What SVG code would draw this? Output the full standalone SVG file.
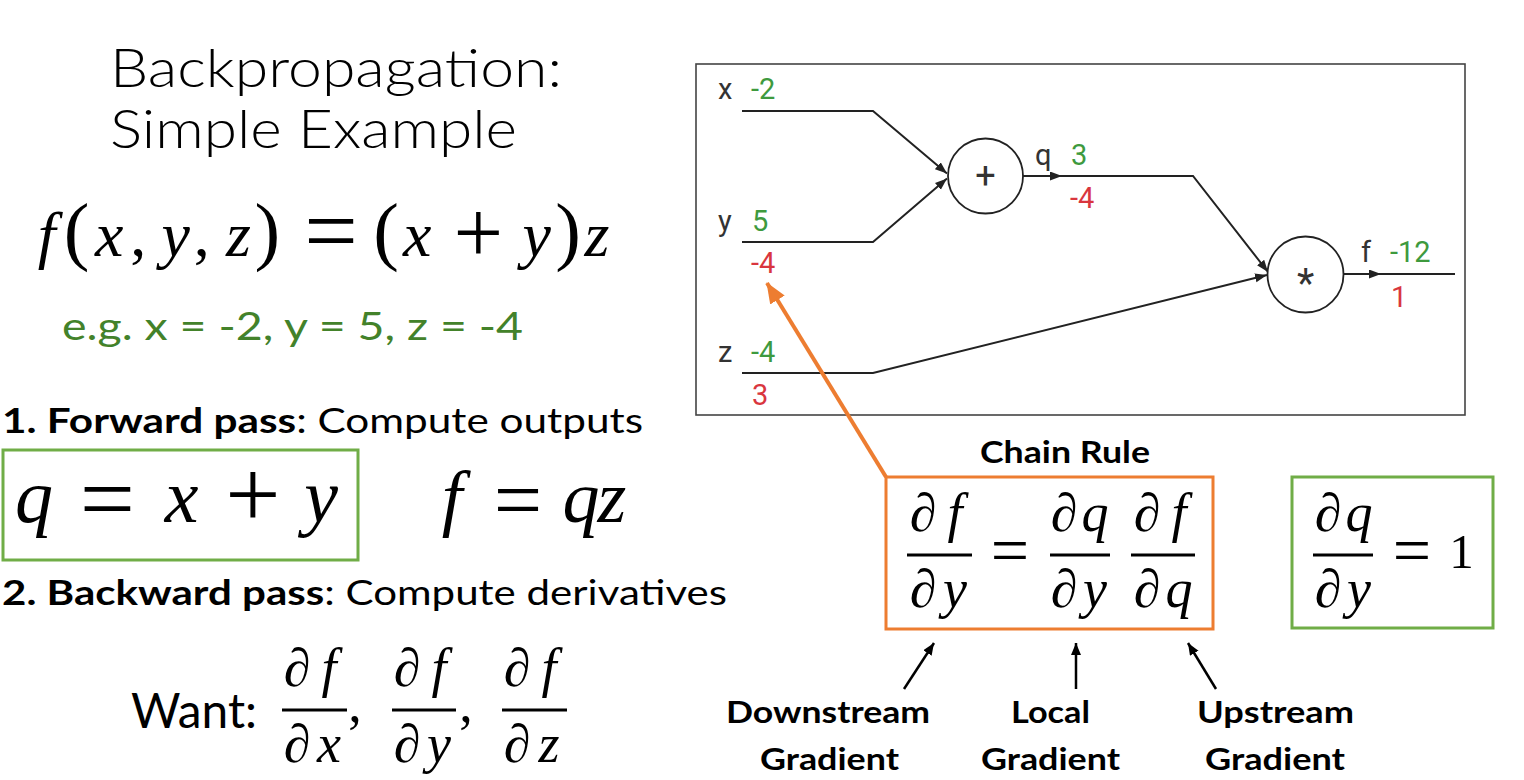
<svg xmlns="http://www.w3.org/2000/svg" width="1524" height="780" viewBox="0 0 1524 780">
<style>
.ui{font-family:Lato,"Open Sans","Liberation Sans",sans-serif;fill:#000}
.lt{font-weight:300}
.b{font-weight:700}
.m{font-family:"Liberation Serif","Times New Roman",serif;fill:#000}
.i{font-style:italic}
.g{font-family:Roboto,"Liberation Sans",sans-serif;font-size:29px}
.lab{fill:#333}
.gr{fill:#3e9a3e}
.rd{fill:#d9363e}
.op{font-family:Roboto,"Liberation Sans",sans-serif;fill:#333}
.wire{fill:none;stroke:#222;stroke-width:2}
.node{fill:#fff;stroke:#222;stroke-width:1.8}
.bar{stroke:#000;stroke-width:3}
</style>
<defs>
<marker id="ah" markerUnits="userSpaceOnUse" markerWidth="13" markerHeight="10" refX="12" refY="4.5" orient="auto"><path d="M0,0 L12,4.5 L0,9 z" fill="#222"/></marker>
<marker id="oh" markerUnits="userSpaceOnUse" markerWidth="22" markerHeight="18" refX="20" refY="8.5" orient="auto"><path d="M0,0 L21,8.5 L0,17 z" fill="#ED7D31"/></marker>
<marker id="bh" markerUnits="userSpaceOnUse" markerWidth="13" markerHeight="11" refX="12" refY="5" orient="auto"><path d="M0,0 L12,5 L0,10 z" fill="#000"/></marker>
</defs>
<rect width="1524" height="780" fill="#fff"/>

<g id="title">
<text class="ui lt" x="110" y="87" font-size="54" textLength="452" lengthAdjust="spacingAndGlyphs">Backpropagation:</text>
<text class="ui lt" x="110" y="148" font-size="54" textLength="407" lengthAdjust="spacingAndGlyphs">Simple Example</text>
</g>

<g id="function">
<text class="m" font-size="64" y="256" text-anchor="middle"><tspan class="i" x="46.7">f</tspan><tspan x="76.5" font-size="77">(</tspan><tspan class="i" x="109.2">x</tspan><tspan x="138.2">,</tspan><tspan class="i" x="175.7">y</tspan><tspan x="201.8">,</tspan><tspan class="i" x="238.4">z</tspan><tspan x="267.4" font-size="77">)</tspan><tspan x="331" font-size="95" dy="7">=</tspan><tspan x="386" font-size="77" dy="-7">(</tspan><tspan class="i" x="417.3">x</tspan><tspan x="478.4" font-size="88" dy="6">+</tspan><tspan class="i" x="536.6" dy="-6">y</tspan><tspan x="568" font-size="77">)</tspan><tspan class="i" x="597">z</tspan></text>
<text class="ui" x="62" y="340" font-size="38" style="fill:#43822a" textLength="461" lengthAdjust="spacingAndGlyphs">e.g. x = -2, y = 5, z = -4</text>
</g>

<g id="forward">
<text class="ui" x="2" y="433" font-size="35" textLength="641" lengthAdjust="spacingAndGlyphs"><tspan class="b">1. Forward pass</tspan>: Compute outputs</text>
<rect x="3" y="450" width="355" height="110" fill="none" stroke="#70AD47" stroke-width="3"/>
<text class="m" font-size="76" y="522" text-anchor="middle"><tspan class="i" x="34">q</tspan><tspan x="107.5" font-size="98" dy="9">=</tspan><tspan class="i" x="181.5" dy="-9">x</tspan><tspan x="253" font-size="98" dy="5">+</tspan><tspan class="i" x="321" dy="-5">y</tspan></text>
<text class="m" font-size="74" y="522" text-anchor="middle"><tspan class="i" x="452">f</tspan><tspan x="518" font-size="86" dy="7">=</tspan><tspan class="i" x="581" dy="-7">q</tspan><tspan class="i" x="612">z</tspan></text>
</g>

<g id="backward">
<text class="ui" x="2" y="605" font-size="35" textLength="725" lengthAdjust="spacingAndGlyphs"><tspan class="b">2. Backward pass</tspan>: Compute derivatives</text>
<text class="ui" x="131" y="728" font-size="48" textLength="126" lengthAdjust="spacingAndGlyphs">Want:</text>
<g id="want-fracs">
<text class="m i" font-size="54" text-anchor="middle"><tspan x="297" y="686">∂</tspan><tspan x="329" y="686">f</tspan><tspan x="297" y="762">∂</tspan><tspan x="329" y="762">x</tspan></text>
<line class="bar" x1="282" y1="710" x2="347" y2="710"/>
<text class="m" font-size="54" x="355" y="722" text-anchor="middle">,</text>
<text class="m i" font-size="54" text-anchor="middle"><tspan x="407" y="686">∂</tspan><tspan x="439" y="686">f</tspan><tspan x="407" y="762">∂</tspan><tspan x="439" y="762">y</tspan></text>
<line class="bar" x1="392" y1="710" x2="456" y2="710"/>
<text class="m" font-size="54" x="466" y="722" text-anchor="middle">,</text>
<text class="m i" font-size="54" text-anchor="middle"><tspan x="517" y="686">∂</tspan><tspan x="549" y="686">f</tspan><tspan x="517" y="762">∂</tspan><tspan x="549" y="762">z</tspan></text>
<line class="bar" x1="502" y1="710" x2="567" y2="710"/>
</g>
</g>

<g id="graph">
<rect x="696" y="64" width="769" height="351" fill="#fff" stroke="#444" stroke-width="1.6"/>
<g id="connectors">
<polyline class="wire" points="742,111 873,111 947,173.5" marker-end="url(#ah)"/>
<polyline class="wire" points="742,242 873,242 947,178.5" marker-end="url(#ah)"/>
<line class="wire" x1="1023" y1="176" x2="1062" y2="176" marker-end="url(#ah)"/>
<polyline class="wire" points="1058,176 1193,176 1268,272" marker-end="url(#ah)"/>
<polyline class="wire" points="742,373 873,373 1267,275" marker-end="url(#ah)"/>
<line class="wire" x1="1344" y1="274" x2="1381" y2="274" marker-end="url(#ah)"/>
<line class="wire" x1="1376" y1="274" x2="1455" y2="274"/>
</g>
<g id="node-plus">
<circle class="node" cx="985.5" cy="176" r="37.5"/>
<text class="op" x="985.5" y="188" text-anchor="middle" font-size="36">+</text>
</g>
<g id="node-mul">
<circle class="node" cx="1305.5" cy="274.5" r="38"/>
<text class="op" x="1305.5" y="297" text-anchor="middle" font-size="40">*</text>
</g>
<g id="labels">
<text class="g lab" x="718" y="99">x</text><text class="g gr" x="751" y="99">-2</text>
<text class="g lab" x="718" y="231">y</text><text class="g gr" x="752" y="231">5</text>
<text class="g rd" x="751" y="273">-4</text>
<text class="g lab" x="718" y="362">z</text><text class="g gr" x="751" y="362">-4</text>
<text class="g rd" x="752" y="405">3</text>
<text class="g lab" x="1035" y="165">q</text><text class="g gr" x="1071" y="165">3</text>
<text class="g rd" x="1070" y="208">-4</text>
<text class="g lab" x="1361" y="262">f</text><text class="g gr" x="1390" y="262">-12</text>
<text class="g rd" x="1391" y="307">1</text>
</g>
</g>

<g id="orange-arrow">
<line x1="886" y1="477" x2="767" y2="283" stroke="#ED7D31" stroke-width="4" marker-end="url(#oh)"/>
</g>

<g id="chain-rule">
<text class="ui b" x="1065" y="463" font-size="31" text-anchor="middle" textLength="170" lengthAdjust="spacingAndGlyphs">Chain Rule</text>
<rect x="886" y="477" width="327" height="152" fill="none" stroke="#ED7D31" stroke-width="3"/>
<text class="m i" font-size="54" text-anchor="middle"><tspan x="923" y="531">∂</tspan><tspan x="955" y="531">f</tspan><tspan x="923" y="607">∂</tspan><tspan x="955" y="607">y</tspan></text>
<line class="bar" x1="907" y1="555" x2="972" y2="555"/>
<text class="m" font-size="68" x="1010" y="573" text-anchor="middle">=</text>
<text class="m i" font-size="54" text-anchor="middle"><tspan x="1064" y="531">∂</tspan><tspan x="1095" y="531">q</tspan><tspan x="1064" y="607">∂</tspan><tspan x="1095" y="607">y</tspan></text>
<line class="bar" x1="1050" y1="555" x2="1110" y2="555"/>
<text class="m i" font-size="54" text-anchor="middle"><tspan x="1147" y="531">∂</tspan><tspan x="1179" y="531">f</tspan><tspan x="1147" y="607">∂</tspan><tspan x="1179" y="607">q</tspan></text>
<line class="bar" x1="1131" y1="555" x2="1195" y2="555"/>
</g>

<g id="local-box">
<rect x="1292" y="477" width="201" height="151" fill="none" stroke="#70AD47" stroke-width="3"/>
<text class="m i" font-size="54" text-anchor="middle"><tspan x="1328" y="531">∂</tspan><tspan x="1359" y="531">q</tspan><tspan x="1328" y="607">∂</tspan><tspan x="1359" y="607">y</tspan></text>
<line class="bar" x1="1313" y1="555" x2="1373" y2="555"/>
<text class="m" font-size="68" x="1412" y="573" text-anchor="middle">=</text>
<text class="m" font-size="49" x="1461.5" y="568" text-anchor="middle">1</text>
</g>

<g id="gradient-labels">
<line x1="904" y1="689" x2="934" y2="643" stroke="#000" stroke-width="2.5" marker-end="url(#bh)"/>
<line x1="1076" y1="689" x2="1076" y2="643" stroke="#000" stroke-width="2.5" marker-end="url(#bh)"/>
<line x1="1216" y1="689" x2="1188" y2="643" stroke="#000" stroke-width="2.5" marker-end="url(#bh)"/>
<text class="ui b" x="828" y="723" font-size="30" text-anchor="middle" textLength="204" lengthAdjust="spacingAndGlyphs">Downstream</text>
<text class="ui b" x="829.5" y="770" font-size="30" text-anchor="middle" textLength="139" lengthAdjust="spacingAndGlyphs">Gradient</text>
<text class="ui b" x="1050.5" y="723" font-size="30" text-anchor="middle" textLength="79" lengthAdjust="spacingAndGlyphs">Local</text>
<text class="ui b" x="1050.5" y="770" font-size="30" text-anchor="middle" textLength="139" lengthAdjust="spacingAndGlyphs">Gradient</text>
<text class="ui b" x="1275.5" y="723" font-size="30" text-anchor="middle" textLength="157" lengthAdjust="spacingAndGlyphs">Upstream</text>
<text class="ui b" x="1275" y="770" font-size="30" text-anchor="middle" textLength="140" lengthAdjust="spacingAndGlyphs">Gradient</text>
</g>
</svg>
